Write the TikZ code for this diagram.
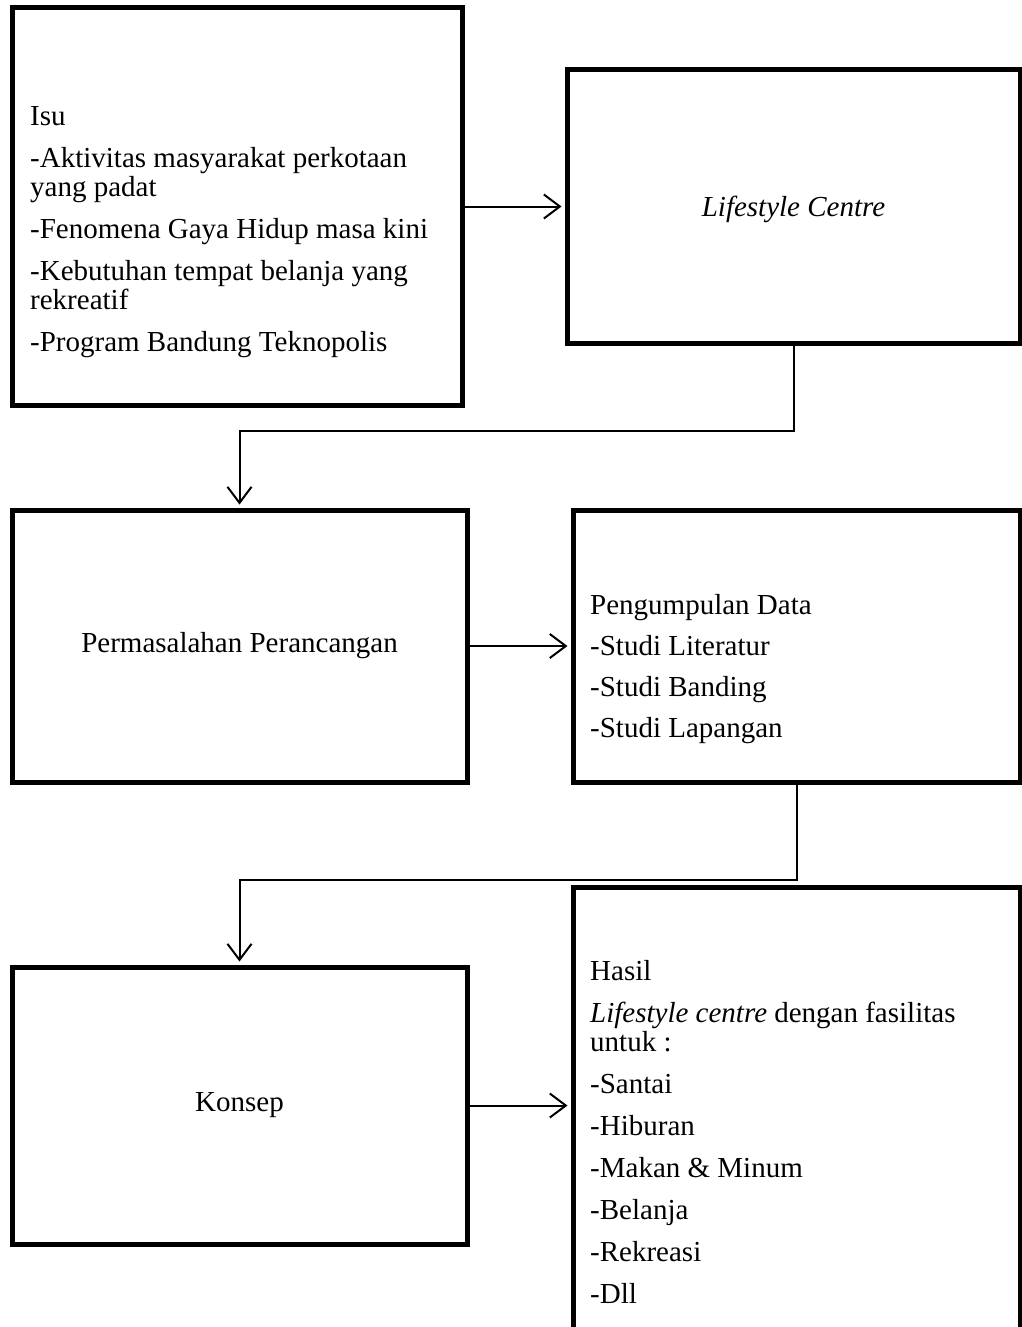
\documentclass[tikz,border=0pt]{standalone}
\usepackage{fontspec}
\setmainfont{Liberation Serif}
\usetikzlibrary{arrows.meta}
\begin{document}
\begin{tikzpicture}[x=1pt,y=-1pt,
		kotak/.style={draw=black,line width=5pt,inner sep=0pt},
		teks/.style={font=\fontsize{29}{29}\selectfont,inner sep=0pt,align=left},
		panah/.style={draw=black,line width=2pt,-{Straight Barb[length=16pt,width=24pt]},shorten >=3pt}]
			\useasboundingbox (0,0) rectangle (1021,1327);
			% kotak
			\node [kotak,minimum width=450pt,minimum height=397pt] (isu) at (237,206.5) {};
			\node [kotak,minimum width=453pt,minimum height=273pt] (lc) at (793.5,206.5) {};
			\node [kotak,minimum width=455pt,minimum height=272pt] (masalah) at (239.5,646) {};
			\node [kotak,minimum width=447pt,minimum height=272pt] (data) at (796.5,646) {};
			\node [kotak,minimum width=455pt,minimum height=277pt] (konsep) at (239.5,1105.5) {};
			\node [kotak,minimum width=447pt,minimum height=458pt] (hasil) at (796.5,1116) {};
			% teks
			\node [teks,anchor=north west] (isuteks) at (30,106) {Isu\\[13pt]
				-Aktivitas masyarakat perkotaan\\
				yang padat\\[13pt]
				-Fenomena Gaya Hidup masa kini\\[13pt]
				-Kebutuhan tempat belanja yang\\
				rekreatif\\[13pt]
				-Program Bandung Teknopolis};
			\node [teks] (lcteks) at ([yshift=-3pt]lc.center) {\textit{Lifestyle Centre}};
			\node [teks] (masalahteks) at (masalah) {Permasalahan Perancangan};
			\node [teks,anchor=north west] (datateks) at (590,594) {Pengumpulan Data\\[12pt]
				-Studi Literatur\\[12pt]
				-Studi Banding\\[12pt]
				-Studi Lapangan};
			\node [teks] (konsepteks) at (konsep) {Konsep};
			\node [teks,anchor=north west] (hasilteks) at (590,960) {Hasil\\[13pt]
				\textit{Lifestyle centre} dengan fasilitas\\
				untuk :\\[13pt]
				-Santai\\[13pt]
				-Hiburan\\[13pt]
				-Makan \& Minum\\[13pt]
				-Belanja\\[13pt]
				-Rekreasi\\[13pt]
				-Dll};
			% panah
			\draw [panah] (isu.east) -- (isu.east -| lc.west);
			\draw [panah] (masalah.east) -- (masalah.east -| data.west);
			\draw [panah] (konsep.east) -- (konsep.east -| hasil.west);
			\draw [panah] (lc.south) -- ++(0,85) -| (masalah.north);
			\draw [panah] (data.south) -- ++(0,95) -| (konsep.north);
		\end{tikzpicture}
\end{document}
